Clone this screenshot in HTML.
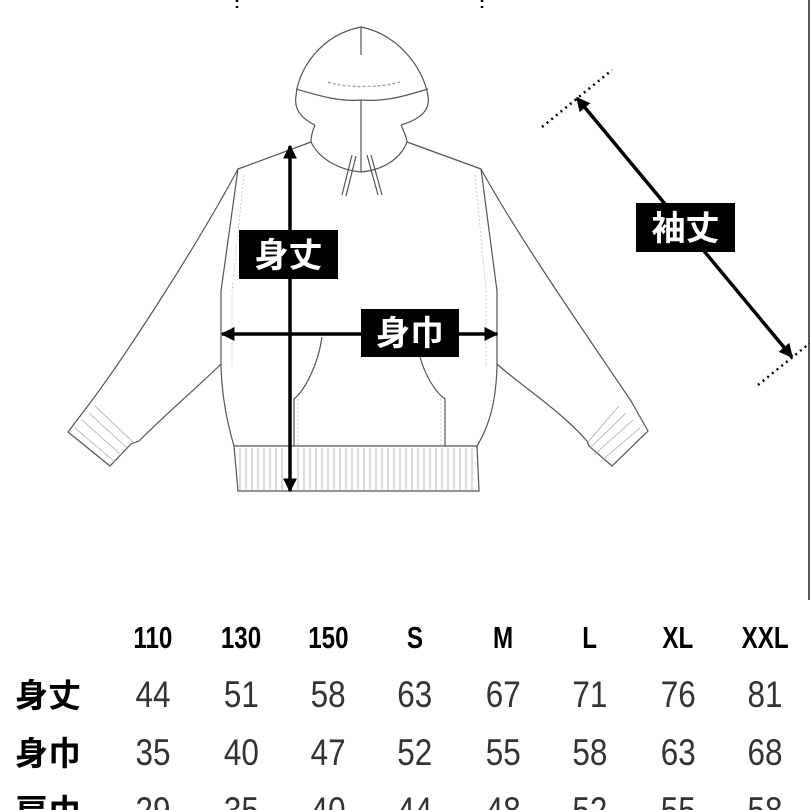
<!DOCTYPE html>
<html><head><meta charset="utf-8"><style>
html,body{margin:0;padding:0;background:#fff;width:810px;height:810px;overflow:hidden}
svg{display:block}
.lbl{font-family:"Liberation Sans","Noto Sans CJK JP",sans-serif;font-weight:bold;fill:#fff;font-size:34px}
.hd{font-family:"Liberation Sans",sans-serif;font-weight:bold;font-size:31px;fill:#000}
.num{font-family:"Liberation Sans",sans-serif;font-size:37px;fill:#333}
.rl{font-family:"Liberation Sans","Noto Sans CJK JP",sans-serif;font-weight:bold;font-size:33px;fill:#000}
</style></head><body>
<svg width="810" height="810" viewBox="0 0 810 810" xmlns="http://www.w3.org/2000/svg">
<defs>
<marker id="ah" viewBox="0 0 10 10" refX="9" refY="5" markerWidth="4" markerHeight="4" orient="auto-start-reverse"><path d="M0,0 L10,5 L0,10 z" fill="#000"/></marker>
</defs>
<g fill="none" stroke="#555" stroke-width="1.2">
<path d="M315,125 C300,118 294,108 296,96 C298,70 320,35 361,27 C400,35 424,70 428,96 C430,108 424,118 401,125"/>
<path d="M296,89 C320,96 340,102 361,100 C385,102 405,96 428,89"/>
<path d="M328,82 C345,88 380,88 400,82" stroke-dasharray="3,2" stroke="#999"/>
<line x1="361" y1="27" x2="361" y2="55"/>
<line x1="361" y1="100" x2="361" y2="172"/>
<path d="M315,125 C312,132 311,138 311,142 C320,160 340,170 361,172 C382,170 400,160 407,142 C407,138 404,132 401,125"/>
<path d="M311,142 L238,169 L221,291 L221,367 C222,400 228,425 234,446"/>
<path d="M407,142 L481,169 L497,291 L497,367 C496,400 490,425 477,446"/>
<path d="M238,169 C200,240 130,350 87,407 L68,432 L110,466 L131,444 L139,441 C170,410 200,385 221,364"/>
<path d="M481,169 C520,240 590,340 631,401 L648,431 L612,466 L589,446 L587,441 C560,410 520,385 497,364"/>
<path d="M234,446 L238,491 L479,491 L477,446 Z"/>
<path d="M322,337 C318,365 305,390 294,399 L294,446"/>
<path d="M420,357 C425,375 435,392 445,399 L445,446"/>
<path d="M352,155 L342,195 M356,156 L346,196 M367,155 L378,195 M371,155 L382,195"/>
</g>
<g stroke="#aaa" stroke-width="0.8">
<path d="M240,448 V490 M246,448 V490 M252,448 V490 M258,448 V490 M264,448 V490 M270,448 V490 M276,448 V490 M282,448 V490 M298,448 V490 M304,448 V490 M310,448 V490 M316,448 V490 M322,448 V490 M328,448 V490 M334,448 V490 M340,448 V490 M346,448 V490 M352,448 V490 M358,448 V490 M364,448 V490 M370,448 V490 M376,448 V490 M382,448 V490 M388,448 V490 M394,448 V490 M400,448 V490 M406,448 V490 M412,448 V490 M418,448 V490 M424,448 V490 M430,448 V490 M436,448 V490 M442,448 V490 M448,448 V490 M454,448 V490 M460,448 V490 M466,448 V490 M472,448 V490"/>
<path d="M75,428 L115,462 M82,420 L121,455 M89,413 L127,448 M95,406 L133,442"/>
<path d="M640,428 L600,462 M633,420 L594,455 M626,413 L590,448 M619,406 L588,442"/>
</g>
<g stroke="#bbb" stroke-width="0.8" stroke-dasharray="2,2" fill="none">
<path d="M244,175 L232,291 L232,367"/><path d="M475,175 L486,291 L486,367"/>
<path d="M298,399 V446 M441,399 V446"/>
</g>
<line x1="237" y1="0" x2="237" y2="12" stroke="#000" stroke-width="2.5" stroke-dasharray="2,4"/>
<line x1="482" y1="0" x2="482" y2="12" stroke="#000" stroke-width="2.5" stroke-dasharray="2,4"/>
<line x1="809" y1="0" x2="809" y2="600" stroke="#222" stroke-width="1.5"/>
<line x1="542" y1="127" x2="612" y2="70" stroke="#000" stroke-width="2.5" stroke-dasharray="2,4"/>
<line x1="758" y1="385" x2="810" y2="343" stroke="#000" stroke-width="2.5" stroke-dasharray="2,4"/>
<g stroke="#000" stroke-width="3.5" marker-start="url(#ah)" marker-end="url(#ah)">
<line x1="290" y1="146" x2="290" y2="491"/>
<line x1="222" y1="334" x2="497" y2="334"/>
<line x1="577" y1="98" x2="792" y2="357"/>
</g>
<rect x="239" y="230" width="99" height="49" fill="#000"/>
<text x="288.5" y="267" text-anchor="middle" class="lbl">身丈</text>
<rect x="361" y="309" width="98" height="48" fill="#000"/>
<text x="410" y="345" text-anchor="middle" class="lbl">身巾</text>
<rect x="636" y="203" width="99" height="49" fill="#000"/>
<text x="685.5" y="240" text-anchor="middle" class="lbl">袖丈</text>
<g class="hd" text-anchor="middle" transform="scale(0.78,1)">
<text x="196" y="648">110</text><text x="309" y="648">130</text><text x="421" y="648">150</text><text x="532" y="648">S</text><text x="645" y="648">M</text><text x="756" y="648">L</text><text x="869" y="648">XL</text><text x="981" y="648">XXL</text>
</g>
<g class="rl"><text x="15" y="707">身丈</text><text x="15" y="765">身巾</text><text x="15" y="823">肩巾</text></g>
<g class="num" text-anchor="middle" transform="scale(0.85,1)">
<text x="180" y="707">44</text><text x="284" y="707">51</text><text x="386" y="707">58</text><text x="488" y="707">63</text><text x="592" y="707">67</text><text x="694" y="707">71</text><text x="798" y="707">76</text><text x="900" y="707">81</text>
<text x="180" y="765">35</text><text x="284" y="765">40</text><text x="386" y="765">47</text><text x="488" y="765">52</text><text x="592" y="765">55</text><text x="694" y="765">58</text><text x="798" y="765">63</text><text x="900" y="765">68</text>
<text x="180" y="823">29</text><text x="284" y="823">35</text><text x="386" y="823">40</text><text x="488" y="823">44</text><text x="592" y="823">48</text><text x="694" y="823">52</text><text x="798" y="823">55</text><text x="900" y="823">58</text>
</g>
</svg>
</body></html>
